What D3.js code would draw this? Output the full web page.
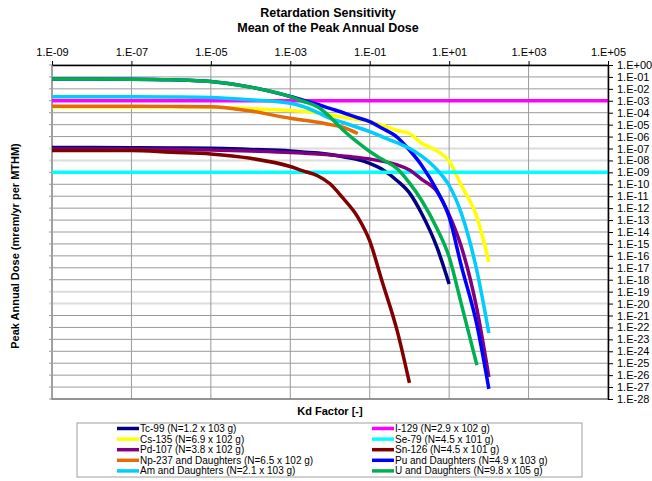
<!DOCTYPE html>
<html>
<head>
<meta charset="utf-8">
<script src="https://cdn.jsdelivr.net/npm/d3@7"></script>
<style>
  body { margin: 0; background: #fff; }
  svg { display: block; font-family: "Liberation Sans", Arial, sans-serif; }
</style>
</head>
<body>
<svg id="chart" width="652" height="481"></svg>
<script>
// Kd factors at which the peak annual dose was evaluated
const kd = [1e-9, 1e-8, 1e-7, 1e-6, 1e-5, 1e-4, 1e-3, 2e-3, 5e-3, 1e-2, 2e-2, 5e-2,
            0.1, 0.2, 0.5, 1, 2, 5, 10, 20, 50, 100];
// Nuclides insensitive to retardation: constant over the full Kd range
const flatKd = [1e-9, 1e5];

// Mean peak annual dose (mrem/yr per MTHM); null = not evaluated
const tc99 = [1.2e-7, 1.2e-7, 1.15e-7, 1.1e-7, 1.05e-7, 8.3e-8, 6.2e-8, 5.1e-8, 4.2e-8, 3.2e-8, 2.1e-8, 1.2e-8,
              5.8e-9, 1.9e-9, 1.9e-10, 1.9e-11, 3.9e-13, 4.6e-16, 4.4e-19, null, null, null];
const i129 = [1e-3, 1e-3];
const cs135 = [3.0e-4, 3.0e-4, 3.0e-4, 3.0e-4, 2.9e-4, 2.2e-4, 1.5e-4, 1.3e-4, 9.5e-5, 6.4e-5, 4.4e-5, 2.7e-5,
               1.8e-5, 9.3e-6, 3.2e-6, 1.8e-6, 2.9e-7, 6.2e-8, 8.9e-9, 8.7e-11, 1.8e-13, 3.1e-17];
const se79 = [1e-9, 1e-9];
const pd107 = [9.1e-8, 9.1e-8, 9.0e-8, 8.5e-8, 7.5e-8, 6.2e-8, 4.7e-8, 4.1e-8, 3.5e-8, 2.9e-8, 2.4e-8, 1.8e-8,
               1.3e-8, 8.9e-9, 4.2e-9, 1.6e-9, 2.7e-10, 2.3e-11, 2.7e-13, 6.7e-16, 3.5e-21, 7e-27];
const sn126 = [6.8e-8, 6.8e-8, 6.7e-8, 4.8e-8, 3.5e-8, 1.5e-8, 3.1e-9, 1.4e-9, 5e-10, 1.1e-10, 8.7e-12, 1.8e-13,
               1.8e-15, 9.5e-19, 4.2e-23, 2.2e-27, null, null, null, null, null, null];
const np237 = [3.5e-4, 3.5e-4, 3.5e-4, 3.4e-4, 3.2e-4, 1.4e-4, 3.4e-5, 2.5e-5, 1.6e-5, 1.0e-5, 6.3e-6, 1.8e-6,
               null, null, null, null, null, null, null, null, null, null];
const pu = [6.7e-2, 6.7e-2, 6.5e-2, 5.7e-2, 4.1e-2, 1.4e-2, 2.3e-3, 1.2e-3, 4.9e-4, 2.3e-4, 1.1e-4, 3.8e-5,
            1.8e-5, 5.2e-6, 8.4e-7, 7.5e-8, 4.2e-9, 2.8e-11, 1.8e-13, 1.7e-17, 1.6e-22, 7e-28];
const am = [2.2e-3, 2.2e-3, 2.2e-3, 2.1e-3, 1.9e-3, 1.2e-3, 6.2e-4, 3.5e-4, 1.0e-4, 3.4e-5, 1.6e-5, 5.8e-6,
            2.6e-6, 1.0e-6, 2.9e-7, 1.05e-7, 2.4e-8, 1.6e-9, 7.9e-11, 4.2e-13, 5.4e-18, 3.4e-23];
const u = [6.7e-2, 6.7e-2, 6.5e-2, 5.7e-2, 4.1e-2, 1.4e-2, 2.2e-3, 9.6e-4, 3.0e-4, 4.4e-5, 4.3e-6, 3.2e-7,
           5.6e-8, 1.3e-8, 1.9e-9, 1.3e-10, 4.8e-12, 1.8e-14, 8e-17, 1.1e-20, 7e-26, null];

const seriesNames = [
  "Tc-99 (N=1.2 x 103 g)", "I-129 (N=2.9 x 102 g)",
  "Cs-135 (N=6.9 x 102 g)", "Se-79 (N=4.5 x 101 g)",
  "Pd-107 (N=3.8 x 102 g)", "Sn-126 (N=4.5 x 101 g)",
  "Np-237 and Daughters (N=6.5 x 102 g)", "Pu and Daughters (N=4.9 x 103 g)",
  "Am and Daughters (N=2.1 x 103 g)", "U and Daughters (N=9.8 x 105 g)"
];
const seriesX = [kd, flatKd, kd, flatKd, kd, kd, kd, kd, kd, kd];
const seriesY = [tc99, i129, cs135, se79, pd107, sn126, np237, pu, am, u];
const seriesColors = ["#000080", "#ff00ff", "#ffff00", "#00ffff", "#800080",
                      "#800000", "#e36c09", "#0000ff", "#00ccff", "#00b050"];

const xTickLabels = ["1.E-09", "1.E-07", "1.E-05", "1.E-03", "1.E-01", "1.E+01", "1.E+03", "1.E+05"];
const yTickLabels = ["1.E+00", "1.E-01", "1.E-02", "1.E-03", "1.E-04", "1.E-05", "1.E-06", "1.E-07",
  "1.E-08", "1.E-09", "1.E-10", "1.E-11", "1.E-12", "1.E-13", "1.E-14", "1.E-15", "1.E-16",
  "1.E-17", "1.E-18", "1.E-19", "1.E-20", "1.E-21", "1.E-22", "1.E-23", "1.E-24", "1.E-25",
  "1.E-26", "1.E-27", "1.E-28"];
const lightGridLabels = ["1.E-07", "1.E-08", "1.E-19", "1.E-20"];

const parseTick = s => Number(s.replace(".E", "e"));
const xTicks = xTickLabels.map(parseTick);
const yTicks = yTickLabels.map(parseTick);

const svg = d3.select("#chart");
const plot = { left: 52, right: 608, top: 65, bottom: 399 };

const x = d3.scaleLog().domain([1e-9, 1e5]).range([plot.left, plot.right]);
const y = d3.scaleLog().domain([1, 1e-28]).range([plot.top, plot.bottom]);

// Titles
const title = svg.append("g").attr("font-weight", "bold").attr("font-size", 12.5)
  .attr("text-anchor", "middle").attr("fill", "#000");
title.append("text").attr("x", 328).attr("y", 17).text("Retardation Sensitivity");
title.append("text").attr("x", 328).attr("y", 32).text("Mean of the Peak Annual Dose");

// Grid lines
const grid = svg.append("g");
grid.selectAll("line.h").data(yTickLabels).join("line")
  .attr("x1", plot.left - 3).attr("x2", plot.right)
  .attr("y1", d => y(parseTick(d))).attr("y2", d => y(parseTick(d)))
  .attr("stroke", d => lightGridLabels.includes(d) ? "#dcdcdc" : "#9a9a9a")
  .attr("stroke-width", d => lightGridLabels.includes(d) ? 2 : 1);
grid.selectAll("line.v").data(xTicks).join("line")
  .attr("x1", d => x(d)).attr("x2", d => x(d))
  .attr("y1", plot.top).attr("y2", plot.bottom)
  .attr("stroke", "#9a9a9a").attr("stroke-width", 1);

// Left and bottom frame lines
svg.append("line").attr("x1", plot.left).attr("x2", plot.left)
  .attr("y1", plot.top).attr("y2", plot.bottom + 1)
  .attr("stroke", "#a0a0a0").attr("stroke-width", 2);
svg.append("line").attr("x1", plot.left).attr("x2", plot.right)
  .attr("y1", plot.bottom).attr("y2", plot.bottom)
  .attr("stroke", "#808080").attr("stroke-width", 1.5);

// Series
const line = d3.line()
  .defined(d => d[1] != null)
  .x(d => x(d[0])).y(d => y(d[1]))
  .curve(d3.curveMonotoneX);
const series = svg.append("g").attr("fill", "none");
seriesY.forEach((vals, i) => {
  const pts = vals.map((v, j) => [seriesX[i][j], v]);
  series.append("path")
    .attr("d", line(pts))
    .attr("stroke", seriesColors[i])
    .attr("stroke-width", 3.5)
    .attr("stroke-linejoin", "round");
});

// Top axis (Kd factor)
const xAxis = d3.axisTop(x).tickValues(xTicks)
  .tickFormat((d, i) => xTickLabels[i]).tickSizeInner(4).tickSizeOuter(0).tickPadding(5);
const gx = svg.append("g").attr("transform", `translate(0,${plot.top})`).call(xAxis);
gx.select(".domain").attr("stroke", "#000").attr("stroke-width", 1.5);
gx.selectAll(".tick line").attr("stroke", "#000");
gx.selectAll(".tick text").attr("font-size", 11).attr("font-family", "Liberation Sans, Arial, sans-serif").attr("fill", "#000");

// Right axis (dose)
const yAxis = d3.axisRight(y).tickValues(yTicks)
  .tickFormat((d, i) => yTickLabels[i]).tickSizeInner(5).tickSizeOuter(0).tickPadding(4);
const gy = svg.append("g").attr("transform", `translate(${plot.right},0)`).call(yAxis);
gy.select(".domain").attr("stroke", "#000").attr("stroke-width", 1.5);
gy.selectAll(".tick line").attr("stroke", "#000");
gy.selectAll(".tick text").attr("font-size", 11).attr("font-family", "Liberation Sans, Arial, sans-serif").attr("fill", "#000");

// Axis titles
svg.append("text").attr("x", 330).attr("y", 415)
  .attr("text-anchor", "middle").attr("font-weight", "bold").attr("font-size", 11)
  .text("Kd Factor [-]");
svg.append("text")
  .attr("transform", "translate(19,246) rotate(-90)")
  .attr("text-anchor", "middle").attr("font-weight", "bold").attr("font-size", 11)
  .text("Peak Annual Dose (mrem/yr per MTHM)");

// Legend
const legend = svg.append("g");
legend.append("rect").attr("x", 77).attr("y", 423).attr("width", 505).attr("height", 54)
  .attr("fill", "#fff").attr("stroke", "#a0a0a0").attr("stroke-width", 1);
seriesNames.forEach((name, i) => {
  const col = i % 2, row = Math.floor(i / 2);
  const lx = col === 0 ? 117 : 372;
  const ly = 428.5 + row * 10.6;
  legend.append("line").attr("x1", lx).attr("x2", lx + 22)
    .attr("y1", ly).attr("y2", ly)
    .attr("stroke", seriesColors[i]).attr("stroke-width", 3.5);
  legend.append("text").attr("x", lx + 23).attr("y", ly + 3.5)
    .attr("font-size", 10).attr("fill", "#000").text(name);
});
</script>
</body>
</html>
